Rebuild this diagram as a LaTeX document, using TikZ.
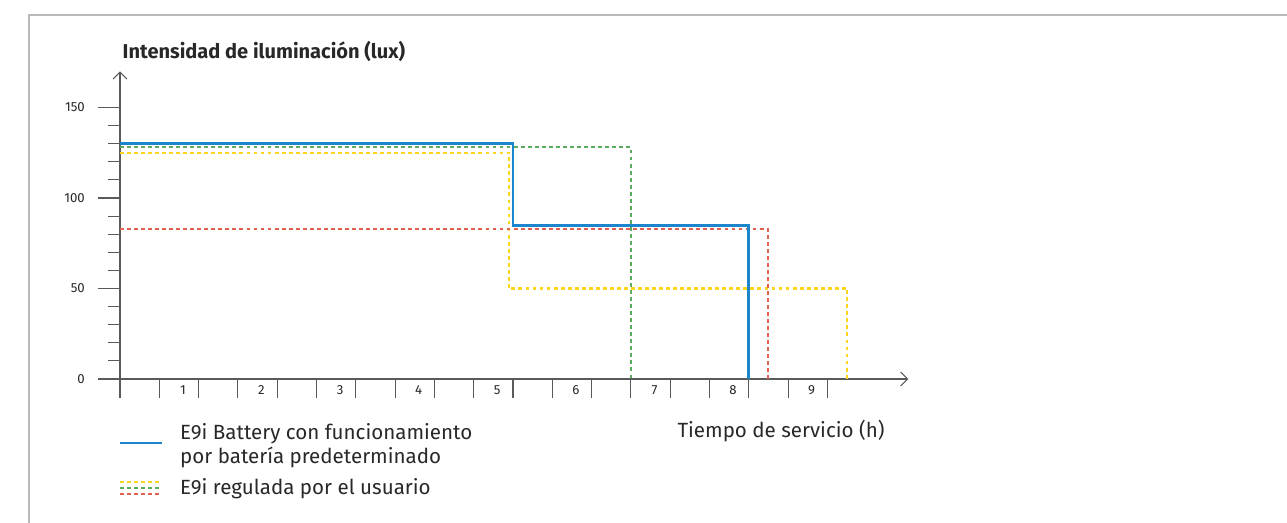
\documentclass[tikz,border=0pt]{standalone}
\usepackage{fontspec}
\setmainfont{Fira Sans}
\usetikzlibrary{arrows.meta}
\definecolor{framegray}{RGB}{185,185,185}
\definecolor{axisgray}{RGB}{90,90,90}
\definecolor{textgray}{RGB}{40,40,40}
\definecolor{battblue}{RGB}{28,134,204}
\definecolor{usergreen}{RGB}{92,172,96}
\definecolor{userred}{RGB}{228,96,78}
\definecolor{useryellow}{RGB}{250,214,30}
\tikzset{
  axisline/.style={axisgray, line width=0.6pt},
  axisarrow/.style={-{Straight Barb[length=4pt,width=8pt]}},
  battline/.style={battblue, line width=1.6pt},
  userline/.style={line width=1.3pt, dash pattern=on 2.2pt off 1.8pt},
  ticklabel/.style={textgray, font=\fontsize{7.5}{9}\selectfont},
  legendtext/.style={textgray, font=\fontsize{11.7}{14}\selectfont, align=left, anchor=west}
}

\begin{document}
\begin{tikzpicture}
                \useasboundingbox (0,0) rectangle (25.74,10.46);
                \draw[framegray, line width=1.2pt] (0.58,0) -- (0.58,10.16) -- (25.74,10.16);
                \node[anchor=west, textgray, font=\bfseries\fontsize{11.4}{13}\selectfont] (title) at (2.33,9.42) {Intensidad de iluminación (lux)};

                \begin{scope}[shift={(2.4,2.88)}, x=1.572cm, y=0.0362cm]
                % axes
                \draw[axisline, axisarrow] (0,-10.5) -- (0,170);
                \draw[axisline, axisarrow] (-0.28,0) -- (10.03,0);
                \foreach \v in {10,20,30,40,60,70,80,90,110,120,130,140}
                    \draw[axisline] (-0.153,\v) -- (0,\v);
                \foreach \v in {0,50,100,150} {
                    \draw[axisline] (-0.28,\v) -- (0,\v);
                    \node[ticklabel, anchor=east] (lux\v) at (-0.37,\v) {\v};
                }
                \foreach \t in {0.5,1,...,9}
                    \draw[axisline] (\t,0) -- (\t,-10.5);
                \foreach \n in {1,...,9}
                    \node[ticklabel] (hour\n) at (\n-0.2,-6) {\n};

                % curves
                \draw[userline, useryellow] (0,125) -- (4.95,125) -- (4.95,50) -- (9.25,50) -- (9.25,0);
                \draw[userline, userred] (0,83) -- (8.24,83) -- (8.24,0);
                \draw[battline] (0,130) -- (5,130) -- (5,85) -- (8,85) -- (8,0);
                \draw[userline, usergreen] (0,128) -- (6.5,128) -- (6.5,0);
                \end{scope}

                \node[textgray, font=\fontsize{11.7}{14}\selectfont] (xlabel) at (15.62,1.84) {Tiempo de servicio (h)};

                % legend
                \draw[battline] (2.4,1.6) -- (3.24,1.6);
                \node[legendtext] (legbatt) at (3.48,1.55) {E9i Battery con funcionamiento\\por batería predeterminado};
                \draw[userline, useryellow] (2.4,0.82) -- (3.24,0.82);
                \draw[userline, usergreen] (2.4,0.70) -- (3.24,0.70);
                \draw[userline, userred] (2.4,0.58) -- (3.24,0.58);
                \node[legendtext] (leguser) at (3.48,0.68) {E9i regulada por el usuario};
\end{tikzpicture}
\end{document}
